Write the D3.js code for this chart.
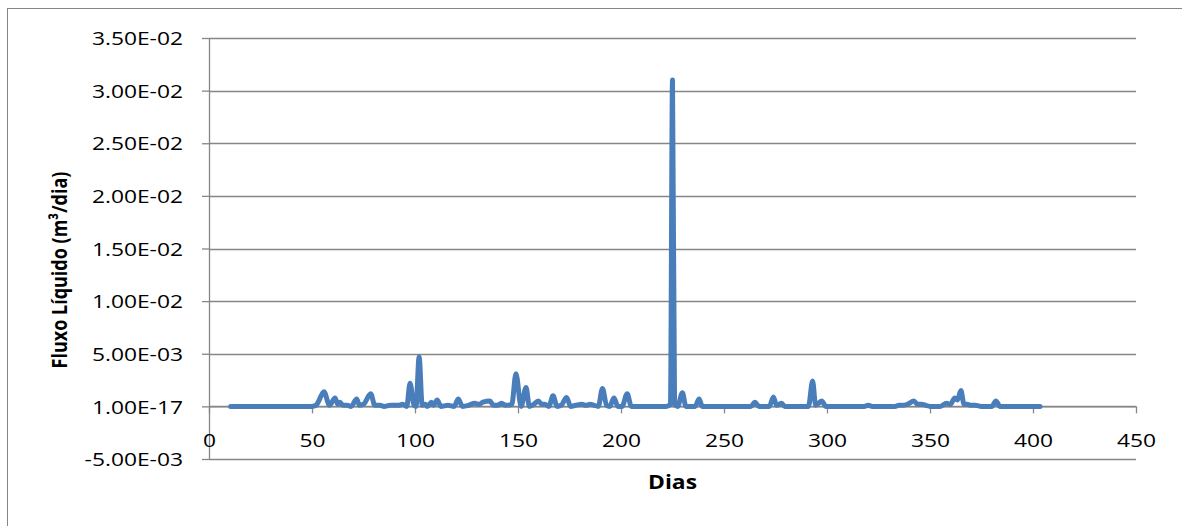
<!DOCTYPE html>
<html>
<head>
<meta charset="utf-8">
<script src="https://cdn.jsdelivr.net/npm/d3@7"></script>
<style>
  html, body { margin: 0; padding: 0; background: #fff; }
  svg { display: block; }
  text { font-family: "Open Sans", "Liberation Sans", sans-serif; fill: #000; }
</style>
</head>
<body>
<svg id="chart" width="1182" height="526"></svg>
<script>
// ---- data ----
const days = [10.5, 50, 52, 53, 55.8, 58.5, 61.2, 62.5, 63.6, 65, 67, 69, 71.7, 73, 75, 78.5, 80.5, 83, 85, 88, 92, 94, 96, 97.6, 99.5, 100.5, 102, 103.5, 105, 106, 108, 109, 110.8, 112.5, 116, 119, 121, 123, 126, 129, 131, 133, 136.4, 138, 140, 142, 144, 147, 149, 151.5, 153.9, 155.5, 157, 159.9, 161.5, 163, 165, 167, 169, 171, 173.6, 175.5, 178, 181, 183, 185, 187, 189, 191, 193, 194.5, 196.6, 198.5, 200.5, 203, 205, 207, 222, 224, 225, 226, 227.5, 229.8, 231.5, 236, 237.9, 239.5, 263, 265, 267, 272, 274, 275.5, 278, 279.5, 291, 293, 294.5, 297.4, 299.5, 318, 320, 322, 333, 335, 337, 339, 342.2, 344, 346, 348, 350, 355, 358, 360, 362, 363.3, 365, 366.5, 368, 370, 372, 375, 380, 382, 384, 403.4];
const flux = [0, 0, 0.0001, 0.0004, 0.0014, 0.0001, 0.0008, 0.0002, 0.0004, 0.0001, 0.0001, 0, 0.0007, 0.0001, 0.0002, 0.0012, 0.0001, 0.0001, 0, 0.0001, 0.0001, 0.0002, 0, 0.0022, 0.0001, 0, 0.0047, 0.0001, 0.0002, 0, 0.0004, 0.0001, 0.0006, 0, 0.0001, 0, 0.0007, 0, 0.0001, 0.0003, 0.0002, 0.0004, 0.0005, 0.0001, 0.0001, 0.0003, 0.0001, 0.0002, 0.0031, 0, 0.0018, 0, 0.0001, 0.0005, 0.0002, 0.0002, 0, 0.001, 0, 0.0001, 0.00085, 0, 0.0001, 0.0002, 0.0001, 0.0002, 0.0001, 0, 0.0017, 0.0001, 0, 0.0008, 0, 0, 0.0012, 0, 0, 0, 0.0002, 0.031, 0.0002, 0, 0.0013, 0, 0, 0.0007, 0, 0, 0.0004, 0, 0, 0.0009, 0.0001, 0.0003, 0, 0, 0.0024, 0.0001, 0.0005, 0, 0, 0.0001, 0, 0, 0.0001, 0.0001, 0.0002, 0.0005, 0.0002, 0.0002, 0.0001, 0, 0, 0.0003, 0.0002, 0.0008, 0.0006, 0.0015, 0.0002, 0.0002, 0.0001, 0.0001, 0, 0, 0.0005, 0, 0];

const xTicks = [0, 50, 100, 150, 200, 250, 300, 350, 400, 450];
const xTickLabels = ["0", "50", "100", "150", "200", "250", "300", "350", "400", "450"];
const yTicks = [-0.005, 1e-17, 0.005, 0.01, 0.015, 0.02, 0.025, 0.03, 0.035];
const yTickLabels = ["-5.00E-03", "1.00E-17", "5.00E-03", "1.00E-02", "1.50E-02", "2.00E-02", "2.50E-02", "3.00E-02", "3.50E-02"];
const xTitle = "Dias";
const yTitle = "Fluxo Líquido (m³/dia)";

// ---- layout ----
const svg = d3.select("#chart");
const gray = "#868686";
const lineColor = "#4A7EBB";
const sx = 1.2; // horizontal text stretch seen in the reference

const x = d3.scaleLinear().domain([0, 450]).range([209, 1136]);
const y = d3.scaleLinear().domain([-0.005, 0.035]).range([459, 38]);

// outer chart border (only left/top visible)
svg.append("rect")
  .attr("x", 7.5).attr("y", 8.5).attr("width", 1300).attr("height", 700)
  .attr("fill", "none").attr("stroke", gray).attr("stroke-width", 1);

// gridlines
svg.append("g").selectAll("line").data(yTicks).join("line")
  .attr("x1", x(0)).attr("x2", x(450))
  .attr("y1", d => Math.round(y(d)) + 0.5).attr("y2", d => Math.round(y(d)) + 0.5)
  .attr("stroke", gray).attr("stroke-width", 1.3);

// y axis
const yAxis = svg.append("g").attr("transform", `translate(${x(0)},0)`)
  .call(d3.axisLeft(y).tickValues(yTicks).tickFormat((d, i) => yTickLabels[i]).tickSize(7).tickSizeOuter(0));
yAxis.attr("font-family", null);
yAxis.select(".domain").attr("stroke", gray).attr("stroke-width", 1.3);
yAxis.selectAll(".tick line").attr("stroke", gray).attr("stroke-width", 1.3);
yAxis.selectAll(".tick text")
  .attr("x", 0).attr("dy", "0.35em")
  .attr("transform", `translate(-26,0) scale(${sx},1)`)
  .style("font-size", "19px").attr("fill", "#000");

// x axis at y = 0
const xAxis = svg.append("g").attr("transform", `translate(0,${y(0)})`)
  .call(d3.axisBottom(x).tickValues(xTicks).tickFormat((d, i) => xTickLabels[i]).tickSize(7).tickSizeOuter(0));
xAxis.attr("font-family", null);
xAxis.select(".domain").attr("stroke", gray).attr("stroke-width", 1.3);
xAxis.selectAll(".tick line").attr("stroke", gray).attr("stroke-width", 1.3);
xAxis.selectAll(".tick text")
  .attr("y", 0).attr("dy", "0.35em")
  .attr("transform", `translate(0,34) scale(${sx},1)`)
  .style("font-size", "19px").attr("fill", "#000");

// data line
const pts = days.map((d, i) => [d, flux[i]]);
const line = d3.line().x(d => x(d[0])).y(d => y(d[1])).curve(d3.curveMonotoneX);
svg.append("path").datum(pts)
  .attr("d", line)
  .attr("fill", "none").attr("stroke", lineColor).attr("stroke-width", 5)
  .attr("stroke-linejoin", "round").attr("stroke-linecap", "round");

// axis titles
svg.append("text")
  .attr("transform", `translate(${(x(0) + x(450)) / 2},482) scale(${sx},1)`)
  .attr("text-anchor", "middle").attr("dy", "0.35em")
  .style("font-size", "19px").style("font-weight", "bold")
  .text(xTitle);

svg.append("text")
  .attr("transform", `translate(59,270) scale(${sx},1) rotate(-90)`)
  .attr("text-anchor", "middle").attr("dy", "0.35em")
  .style("font-size", "18px").style("font-weight", "bold")
  .text(yTitle);
</script>
</body>
</html>
